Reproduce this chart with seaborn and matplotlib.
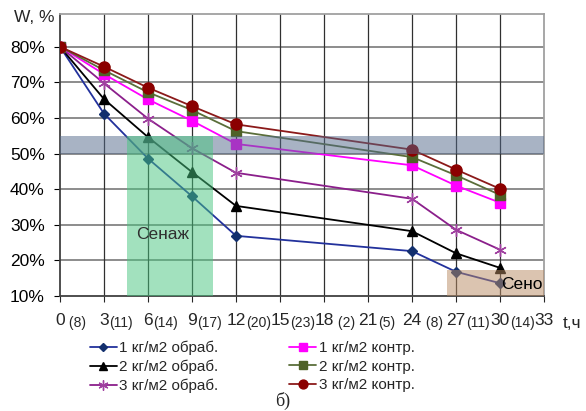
import pandas as pd
import numpy as np
import matplotlib
matplotlib.use('Agg')
import matplotlib.pyplot as plt
import seaborn as sns

# ------------------ DATA ------------------------
hours = [0, 3, 6, 9, 12, 24, 27, 30]

w_1_obr = [80, 61.2, 48.6, 38.0, 26.9, 22.6, 16.8, 13.6]
w_2_obr = [80, 65.3, 54.6, 44.8, 35.3, 28.2, 22.0, 17.9]
w_3_obr = [80, 69.7, 59.8, 51.5, 44.6, 37.3, 28.6, 23.0]
w_1_kontr = [80, 72.3, 65.2, 59.2, 52.7, 46.7, 41.0, 36.2]
w_2_kontr = [80, 73.4, 67.2, 62.2, 56.3, 49.0, 43.9, 38.4]
w_3_kontr = [80, 74.4, 68.5, 63.3, 58.2, 51.1, 45.5, 40.1]

series_names = ['1 кг/м2 обраб.', '2 кг/м2 обраб.', '3 кг/м2 обраб.',
                '1 кг/м2 контр.', '2 кг/м2 контр.', '3 кг/м2 контр.']
series_values = [w_1_obr, w_2_obr, w_3_obr, w_1_kontr, w_2_kontr, w_3_kontr]

tick_hours = [0, 3, 6, 9, 12, 15, 18, 21, 24, 27, 30, 33]
tick_main = ['0', '3', '6', '9', '12', '15', '18', '21', '24', '27', '30', '33']
tick_sub = [' (8)', '(11)', '(14)', '(17)', '(20)', '(23)', ' (2)', '(5)', ' (8)', '(11)', '(14)', '']
y_ticks = [10, 20, 30, 40, 50, 60, 70, 80]

# zones: (x0, x1, y0, y1)
band_lo, band_hi = 50, 55
senazh_zone = (4.55, 10.4, 10, 54.8)
seno_zone = (26.4, 33, 10, 17.3)

# ------------------ STYLE -----------------------
styles = {
    '1 кг/м2 обраб.': dict(color='#22319c', mfc='#13306e', marker='D', ms=5),
    '2 кг/м2 обраб.': dict(color='#000000', mfc='#000000', marker='^', ms=7),
    '3 кг/м2 обраб.': dict(color='#8b1f8b', mfc='#a040a0', marker=(6, 2, 0), ms=9),
    '1 кг/м2 контр.': dict(color='#ff00ff', mfc='#ff00ff', marker='s', ms=7),
    '2 кг/м2 контр.': dict(color='#5a6e3a', mfc='#4f6228', marker='s', ms=7),
    '3 кг/м2 контр.': dict(color='#8b1a1a', mfc='#8b0000', marker='o', ms=8),
}

sns.set_style('white')
plt.rcParams['font.family'] = ['Liberation Sans', 'DejaVu Sans']

df = pd.DataFrame({'t': np.tile(hours, len(series_names)),
                   'w': np.concatenate(series_values),
                   'series': np.repeat(series_names, len(hours))})

fig = plt.figure(figsize=(5.86, 4.11), dpi=100)
ax = fig.add_axes([60 / 586, 1 - 296 / 411, 484 / 586, (296 - 14.3) / 411])

for name in series_names:
    st = styles[name]
    sns.lineplot(data=df[df['series'] == name], x='t', y='w', ax=ax,
                 color=st['color'], marker=st['marker'], markersize=st['ms'],
                 markerfacecolor=st['mfc'], markeredgecolor=st['mfc'],
                 markeredgewidth=1.0, linewidth=1.3, label=name, zorder=3)

# shaded zones drawn over the lines (semi-transparent)
ax.axhspan(band_lo, band_hi, color='#53698a', alpha=0.5, lw=0, zorder=5)
ax.fill_between([senazh_zone[0], senazh_zone[1]], senazh_zone[2], senazh_zone[3],
                color='#47c57f', alpha=0.5, lw=0, zorder=5)
ax.fill_between([seno_zone[0], seno_zone[1]], seno_zone[2], seno_zone[3],
                color='#b98a62', alpha=0.5, lw=0, zorder=5)
ax.text(7.0, 27.3, 'Сенаж', fontsize=12.5, color='#303030', ha='center', va='center', zorder=6)
ax.text(30.1, 13.2, 'Сено', fontsize=12.5, color='#000000', ha='left', va='center', zorder=6)

ax.set_xlim(0, 33)
ax.set_ylim(10, 89.1)
ax.set_xlabel('')
ax.set_ylabel('')

ax.set_yticks(y_ticks, labels=[f'{v}%' for v in y_ticks])
ax.set_xticks(tick_hours, labels=[])
ax.tick_params(axis='y', labelsize=12.5, length=4, pad=7, colors='#000000', direction='out', left=True)
ax.tick_params(axis='x', length=4, direction='out', bottom=True)

ax.grid(False)
for v in y_ticks[1:]:
    ax.axhline(v, color='#6e6e6e', lw=1.1, zorder=1)
for h in tick_hours[1:-1]:
    ax.axvline(h, color='#303030', lw=0.9, zorder=1)

for side in ['left', 'bottom']:
    ax.spines[side].set_color('#404040')
    ax.spines[side].set_linewidth(1.3)
for side in ['top', 'right']:
    ax.spines[side].set_color('#a0a0a0')
    ax.spines[side].set_linewidth(1.3)

# x tick labels: main number centered on tick, smaller bracket after it
for h, main, sub in zip(tick_hours, tick_main, tick_sub):
    t = ax.annotate(main, xy=(h, 0), xycoords=('data', 'axes fraction'),
                    xytext=(0, -12.5), textcoords='offset points',
                    ha='center', va='top', fontsize=12.5)
    if sub:
        ax.annotate(sub, xy=(1, 0), xycoords=t, xytext=(0, -1),
                    textcoords='offset points', ha='left', va='bottom', fontsize=10)

fig.text(55 / 586, 1 - 18 / 411, 'W, %', ha='right', va='center', fontsize=12.5)
fig.text(563 / 586, 1 - 323 / 411, 't,ч', ha='left', va='center', fontsize=12.5)

handles, labels = ax.get_legend_handles_labels()
ax.get_legend().remove()
fig.legend(handles, labels, ncol=2, loc='upper left', bbox_to_anchor=(82 / 586, 1 - 333 / 411),
           frameon=False, fontsize=11, borderpad=0, handlelength=1.8, handletextpad=0.15,
           columnspacing=4.6, labelspacing=0.3, markerscale=0.8)

fig.text(283 / 586, 1 - 401 / 411, 'б)', ha='center', va='center', fontsize=13,
         family=['Liberation Serif', 'DejaVu Serif'])

fig.savefig('out.png', dpi=100)
